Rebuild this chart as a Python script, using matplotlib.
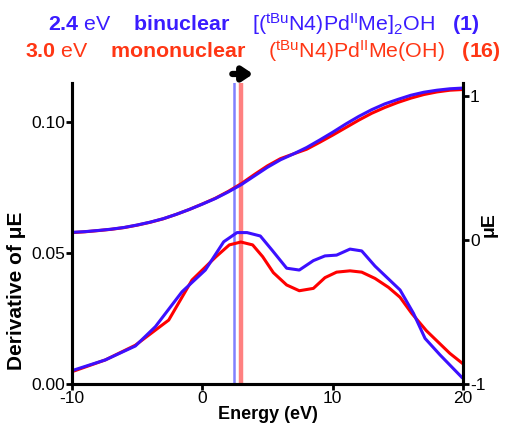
import matplotlib
matplotlib.use('Agg')
import matplotlib.pyplot as plt

plt.rcParams['font.family'] = ['Liberation Sans', 'DejaVu Sans']
plt.rcParams['mathtext.fontset'] = 'custom'
plt.rcParams['mathtext.rm'] = 'Liberation Sans'
plt.rcParams['mathtext.bf'] = 'Liberation Sans:bold'
plt.rcParams['mathtext.it'] = 'Liberation Sans:italic'

BLUE = '#3c10ff'
RED = '#ff0000'
BLUE_TXT = '#3a1cff'
RED_TXT = '#ff3614'

# mu E (right axis), 1 eV grid
E_mu = list(range(-10, 21))
mu_bin = [0.053, 0.058, 0.066, 0.075, 0.087, 0.104, 0.124, 0.148, 0.178, 0.212,
          0.249, 0.288, 0.334, 0.385, 0.445, 0.505, 0.557, 0.598, 0.642, 0.694,
          0.748, 0.805, 0.858, 0.905, 0.945, 0.976, 1.005, 1.026, 1.040, 1.050, 1.055]
mu_mono = [0.051, 0.057, 0.065, 0.074, 0.086, 0.103, 0.123, 0.147, 0.178, 0.212,
           0.250, 0.290, 0.338, 0.392, 0.455, 0.515, 0.565, 0.598, 0.630, 0.678,
           0.728, 0.780, 0.832, 0.880, 0.920, 0.955, 0.985, 1.010, 1.028, 1.040, 1.045]

# derivative of mu E (left axis)
E_d_bin = [-10, -7.44, -5.14, -3.6, -1.56, 0.23, 1.64, 2.66, 3.43, 4.45, 5.35, 6.47,
           7.44, 8.52, 9.41, 10.3, 11.33, 12.23, 13.25, 15.17, 16.2, 17.09, 18.24, 19.9]
d_bin = [0.0051, 0.0092, 0.0145, 0.0219, 0.0352, 0.0435, 0.0543, 0.0578, 0.0578,
         0.0565, 0.0511, 0.0442, 0.0435, 0.0471, 0.0489, 0.0492, 0.0515, 0.0508,
         0.0450, 0.0359, 0.0270, 0.0174, 0.0111, 0.0026]
E_d_mono = [-10, -7.44, -5.14, -2.58, -0.79, 1.05, 2.07, 2.96, 3.86, 4.63, 5.45, 6.47,
            7.44, 8.52, 9.41, 10.3, 11.33, 12.23, 13.25, 14.28, 15.17, 16.06, 17.2,
            18.99, 19.9]
d_mono = [0.0047, 0.0092, 0.0148, 0.0244, 0.0397, 0.0486, 0.0531, 0.0542, 0.0531,
          0.0486, 0.0425, 0.0378, 0.0356, 0.0365, 0.0406, 0.0427, 0.0432, 0.0427,
          0.0403, 0.0369, 0.0331, 0.0270, 0.0203, 0.0117, 0.0081]

edge_bin = 2.4
edge_mono = 3.0

fig = plt.figure(figsize=(5.06, 4.29), dpi=100)
ax = fig.add_axes([0.1423, 0.1049, 0.7727, 0.7016])
ax2 = ax.twinx()

ax.axvline(edge_bin, color='#8080ff', lw=1.8, zorder=1)
ax.axvline(edge_mono, color='#ff8080', lw=3.2, zorder=1)

ax.plot(E_d_mono, d_mono, color=RED, lw=2.2, zorder=3)
ax.plot(E_d_bin, d_bin, color=BLUE, lw=2.2, zorder=4)
ax2.plot(E_mu, mu_mono, color=RED, lw=2.2)
ax2.plot(E_mu, mu_bin, color=BLUE, lw=2.2)

ax.set_xlim(-10, 20)
ax.set_ylim(0, 0.1149)
ax2.set_ylim(-1, 1.09)
ax.set_xticks([-10, 0, 10, 20])
ax.set_xticklabels(['-10', '0', '10', '20'])
ax.set_yticks([0, 0.05, 0.10])
ax.set_yticklabels(['0.00', '0.05', '0.10'])
ax2.set_yticks([-1, 0, 1])
ax2.set_yticklabels(['-1', '0', '1'])

for a in (ax, ax2):
    a.spines['top'].set_visible(False)
    for s in a.spines.values():
        s.set_linewidth(2.2)
    a.tick_params(direction='out', width=2, length=4, labelsize=12.5, pad=1)

ax.set_xlabel('Energy (eV)', fontsize=13, fontweight='bold', labelpad=0)
ax.set_ylabel('Derivative of μE', fontsize=15, fontweight='bold')
ax.yaxis.set_label_coords(-0.117, 0.31)
ax2.set_ylabel('μE', fontsize=14, fontweight='bold')
ax2.yaxis.set_label_coords(1.045, 0.53)

ax.annotate('', xy=(3.9, 1.03), xytext=(2.3, 1.03),
            xycoords=('data', 'axes fraction'), textcoords=('data', 'axes fraction'),
            arrowprops=dict(arrowstyle='-|>,head_length=0.6,head_width=0.4',
                            color='black', lw=4.5, shrinkA=0, shrinkB=0))

line1 = (r'$\mathbf{2.4}\ \mathrm{eV}\ \ \ \ \mathbf{binuclear}\ \ \ \ '
         r'\mathrm{[(^{tBu}N4)Pd^{II}Me]_{2}OH}\ \ \ \mathbf{(1)}$')
line2 = (r'$\mathbf{3.0}\ \mathrm{eV}\ \ \ \ \mathbf{mononuclear}\ \ \ \ '
         r'\mathrm{(^{tBu}N4)Pd^{II}Me(OH)}\ \ \ \mathbf{(16)}$')
fig.text(264 / 506, 1 - 24 / 429, line1, color=BLUE_TXT, fontsize=15.4,
         ha='center', va='center')
fig.text(263 / 506, 1 - 51 / 429, line2, color=RED_TXT, fontsize=15.4,
         ha='center', va='center')

fig.savefig('out.png', dpi=100)
